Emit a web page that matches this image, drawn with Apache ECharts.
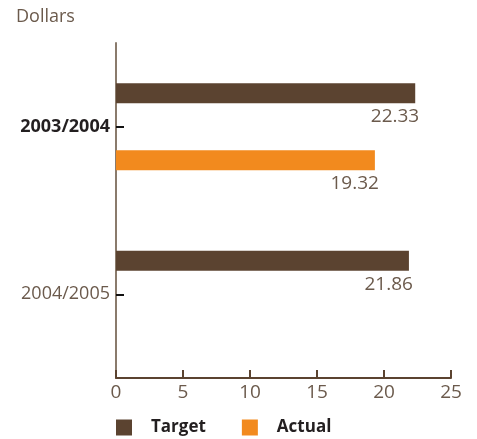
<!DOCTYPE html>
<html>
<head>
<meta charset="utf-8">
<style>
  html, body { margin: 0; padding: 0; background: #fff; }
  #chart { width: 477px; height: 439px; }
</style>
<script src="https://cdn.jsdelivr.net/npm/echarts@6/dist/echarts.min.js"></script>
</head>
<body>
<div id="chart"></div>
<script>
// Fiscal years shown on the category axis
const years = ['2003/2004', '2004/2005'];
// Dollar amounts per year (null where no figure is reported)
const targetValues = [22.33, 21.86];
const actualValues = [19.32, null];
const seriesNames = ['Target', 'Actual'];
const xTicks = [0, 5, 10, 15, 20, 25];

const FONT = '"Open Sans", sans-serif';
const TEXT = '#6b5a4c';
const BROWN = '#5b4330';
const ORANGE = '#f28a1e';

const chart = echarts.init(document.getElementById('chart'), null, { renderer: 'canvas' });

const valueLabel = {
  show: true,
  position: ['100%', '100%'],
  align: 'right',
  verticalAlign: 'top',
  offset: [4, 4],
  color: TEXT,
  fontFamily: FONT,
  fontSize: 19,
  formatter: p => p.value.toFixed(2)
};

chart.setOption({
  animation: false,
  textStyle: { fontFamily: FONT },
  graphic: [{
    type: 'text', left: 16, top: 8,
    style: { text: 'Dollars', fill: TEXT, font: '18px ' + FONT }
  }],
  legend: {
    data: seriesNames,
    left: 116, top: 419, padding: 0,
    itemWidth: 16, itemHeight: 16, itemGap: 36,
    icon: 'rect',
    textStyle: { color: '#231f20', fontSize: 17, fontWeight: 'bold', fontFamily: FONT, padding: [0, 0, 0, 14] }
  },
  grid: { left: 116, right: 26, top: 43, bottom: 61, containLabel: false },
  xAxis: {
    type: 'value',
    min: xTicks[0], max: xTicks[xTicks.length - 1], interval: 5,
    splitLine: { show: false },
    axisLine: { show: true, lineStyle: { color: BROWN, width: 2 } },
    axisTick: { show: true, inside: true, length: 8, lineStyle: { color: BROWN, width: 2 } },
    axisLabel: { color: TEXT, fontSize: 19, fontFamily: FONT, margin: 5 }
  },
  yAxis: {
    type: 'category',
    data: years,
    inverse: true,
    axisLine: { show: true, lineStyle: { color: '#8a7b6c', width: 2 } },
    axisTick: { show: true, inside: true, length: 8, alignWithLabel: true, lineStyle: { color: '#111', width: 2 } },
    axisLabel: {
      margin: 6,
      fontSize: 18,
      fontFamily: FONT,
      formatter: (v, i) => i === 0 ? '{b|' + v + '}' : '{n|' + v + '}',
      rich: {
        b: { fontWeight: 'bold', color: '#231f20', fontSize: 18, fontFamily: FONT },
        n: { color: TEXT, fontSize: 18, fontFamily: FONT }
      }
    }
  },
  series: [
    {
      name: seriesNames[0], type: 'bar', data: targetValues,
      barWidth: 20, barGap: '235%',
      itemStyle: { color: BROWN },
      label: valueLabel
    },
    {
      name: seriesNames[1], type: 'bar', data: actualValues,
      barWidth: 20,
      itemStyle: { color: ORANGE },
      label: valueLabel
    }
  ]
});
</script>
</body>
</html>
